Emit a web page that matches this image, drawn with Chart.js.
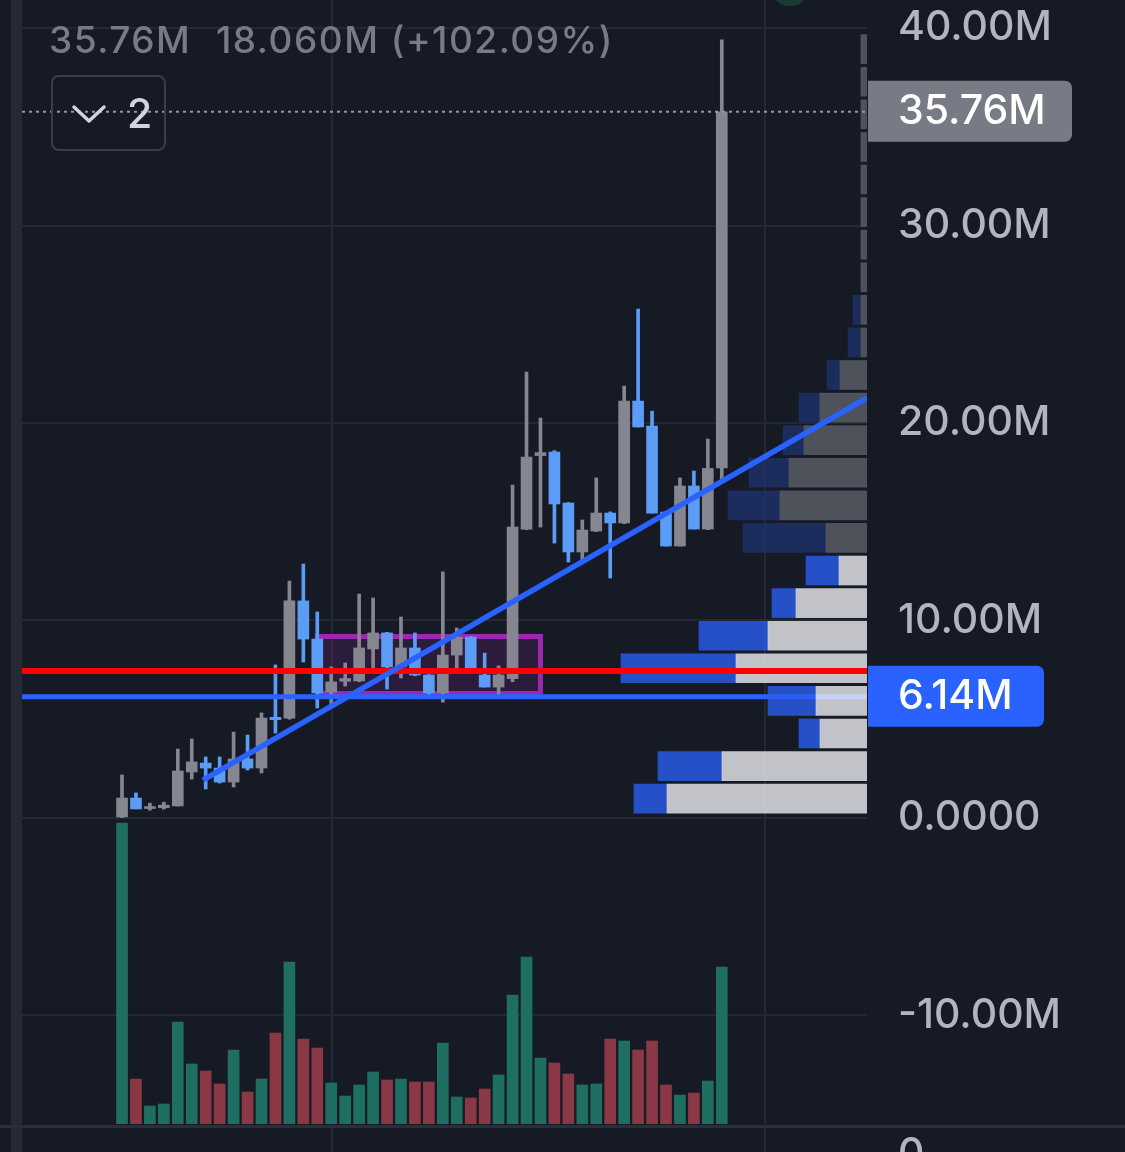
<!DOCTYPE html>
<html>
<head>
<meta charset="utf-8">
<script src="https://cdn.jsdelivr.net/npm/chart.js@4.4.0/dist/chart.umd.min.js"></script>
<style>
  html, body { margin: 0; padding: 0; background: #161a25; }
  #wrap { width: 1125px; height: 1152px; position: relative; }
</style>
</head>
<body>
<div id="wrap"><canvas id="chart"></canvas></div>
<script>
// candles, oldest first (prices in millions)
const opens  = [0.05, 1.01, 0.48, 0.52, 0.61, 2.33, 2.78, 2.53, 1.82, 2.99, 2.53, 5.10, 5.06, 10.99, 9.06, 6.38, 6.92, 6.94, 8.56, 9.37, 7.65, 8.61, 7.24, 6.33, 8.25, 9.16, 7.24, 6.63, 7.05, 14.63, 18.35, 18.53, 15.95, 13.47, 14.53, 15.44, 14.94, 21.11, 19.85, 15.49, 13.77, 16.81, 14.63, 17.72];
const highs  = [2.18, 1.27, 0.75, 0.80, 3.49, 4.00, 3.09, 3.09, 4.35, 4.20, 5.32, 7.75, 12.00, 12.86, 10.43, 7.65, 7.85, 11.34, 11.14, 9.40, 10.18, 9.37, 7.26, 12.46, 9.62, 9.18, 8.35, 7.70, 16.86, 22.58, 20.25, 18.60, 15.97, 15.09, 17.22, 15.50, 21.87, 25.77, 20.60, 15.50, 17.22, 17.57, 19.19, 39.40];
const lows   = [0.02, 0.46, 0.40, 0.45, 0.61, 1.97, 1.47, 1.77, 1.57, 2.43, 2.28, 4.30, 5.00, 7.90, 5.57, 5.72, 6.68, 6.90, 7.60, 6.53, 7.09, 7.20, 6.23, 5.87, 7.60, 7.60, 6.63, 6.18, 6.90, 14.60, 14.73, 13.92, 12.96, 12.96, 14.50, 12.15, 14.90, 19.80, 15.44, 13.77, 13.77, 14.63, 14.60, 17.11];
const closes = [1.01, 0.46, 0.58, 0.65, 2.38, 2.84, 2.53, 1.82, 2.99, 2.53, 5.06, 4.98, 10.99, 9.06, 6.33, 6.89, 7.06, 8.61, 9.37, 7.65, 8.61, 7.24, 6.33, 8.25, 9.16, 7.60, 6.63, 7.24, 14.73, 18.28, 18.50, 15.90, 13.47, 14.58, 15.44, 14.94, 21.11, 19.80, 15.44, 13.77, 16.81, 14.63, 17.70, 35.76];
const volumes = [301, 45, 18, 20, 102, 60, 53, 40, 74, 32, 45, 91, 162, 85, 76, 41, 28, 39, 52, 44, 45, 42, 42, 81, 27, 26, 35, 49, 129, 167, 66, 61, 50, 39, 40, 85, 83, 74, 83, 39, 29, 31, 43, 157];

// volume profile rows (row centre price, up volume, down volume)
const profileLevels = [0.98, 2.63, 4.28, 5.93, 7.58, 9.23, 10.88, 12.53, 14.18, 15.83, 17.48, 19.13, 20.78, 22.43, 24.08, 25.73, 27.38, 29.03, 30.68, 32.33, 33.98, 35.63, 37.28, 38.93];
const profileUpVol   = [200, 145, 47, 51, 131, 99, 71, 28, 41, 87, 78, 63, 47, 27, 6, 6, 6, 6, 6, 6, 6, 6, 6, 6];
const profileDownVol = [33, 64, 21, 48, 115, 69, 24, 33, 83, 52, 40, 21, 21, 13, 13, 8, 0, 0, 0, 0, 0, 0, 0, 0];
const valueAreaRows = 8;

// drawings
const lastPrice = 35.76;
const redLevel = 7.44;
const blueLevel = 6.14;
const trendX = [5.8, 53.4];
const trendY = [1.92, 21.27];
const boxX = [14, 30];
const boxY = [6.30, 9.19];

// axes
const yTicks = [-10, 0, 10, 20, 30, 40];
const timeGrid = [15.05, 46.09];
const xMin = -7.17, xMax = 53.41;
const yMin = -15.494, yMax = 41.418;

const FONT = "Inter, 'Noto Sans', sans-serif";
const UP = '#85868f', DOWN = '#5b9cf6';

const idx = opens.map((o, i) => i);
const isUp = i => closes[i] >= opens[i];

// an axis that only exists to map values, takes no room
const bareAxis = extra => Object.assign({
  type: 'linear', display: true, offset: false,
  ticks: { display: false },
  grid: { display: false, drawTicks: false },
  border: { display: false },
  afterFit: s => { s.paddingTop = s.paddingBottom = s.paddingLeft = s.paddingRight = 0; }
}, extra);

const deco = {
  id: 'deco',
  beforeDraw(chart) {
    const c = chart.ctx;
    c.save();
    c.fillStyle = '#161a25';
    c.fillRect(0, 0, chart.width, chart.height);
    c.fillStyle = '#252933';
    c.fillRect(11, 0, 11, chart.height);
    c.fillStyle = '#1b3a36';
    c.beginPath(); c.arc(790, -15, 21, 0, Math.PI * 2); c.fill();
    c.restore();
  },
  afterDraw(chart) {
    const c = chart.ctx;
    const ys = chart.scales.y, xs = chart.scales.x;
    c.save();
    // pane separator
    c.fillStyle = '#2a2e39';
    c.fillRect(0, 1125, chart.width, 3);
    c.fillStyle = '#242833';
    timeGrid.forEach(t => {
      const px = Math.round(xs.getPixelForValue(t));
      c.fillRect(px - 1, 1128, 2, chart.height - 1128);
    });
    c.fillStyle = '#b2b5be';
    c.font = '500 41px ' + FONT;
    c.textBaseline = 'middle';
    c.textAlign = 'left';
    c.fillText('0', 898, 1155);

    // header
    c.fillStyle = '#787b86';
    c.font = '500 37px ' + FONT;
    c.letterSpacing = '1.5px';
    c.textBaseline = 'alphabetic';
    c.fillText('35.76M', 49, 53);
    c.fillText('18.060M (+102.09%)', 216, 53);
    c.letterSpacing = '0px';

    // collapse button
    c.strokeStyle = '#3a3e49';
    c.lineWidth = 2;
    c.beginPath(); c.roundRect(52, 76, 113, 74, 7); c.stroke();
    c.strokeStyle = '#d1d4dc';
    c.lineWidth = 3.5;
    c.lineCap = 'round'; c.lineJoin = 'round';
    c.beginPath(); c.moveTo(74, 107); c.lineTo(89, 121); c.lineTo(104, 107); c.stroke();
    c.fillStyle = '#d1d4dc';
    c.font = '500 41px ' + FONT;
    c.fillText('2', 127, 128);

    // price labels
    const tag = (v, text, bg, w) => {
      const py = ys.getPixelForValue(v);
      c.fillStyle = bg;
      c.beginPath(); c.roundRect(868, py - 31, w, 61, [0, 7, 7, 0]); c.fill();
      c.fillStyle = '#ffffff';
      c.font = '500 41px ' + FONT;
      c.textBaseline = 'middle';
      c.fillText(text, 898, py);
    };
    tag(lastPrice, '35.76M', '#787b86', 204);
    tag(blueLevel, '6.14M', '#2962ff', 176);
    c.restore();
  }
};

new Chart(document.getElementById('chart'), {
  type: 'bar',
  data: {
    datasets: [
      {
        label: 'Volume', yAxisID: 'yv', order: 10, grouped: false, barThickness: 11,
        data: idx.map(i => ({ x: i, y: volumes[i] })),
        backgroundColor: idx.map(i => isUp(i) ? '#1f6e62' : '#8a3845')
      },
      {
        type: 'line', label: 'Box', order: 9,
        data: [
          { x: boxX[0], y: boxY[0] }, { x: boxX[0], y: boxY[1] },
          { x: boxX[1], y: boxY[1] }, { x: boxX[1], y: boxY[0] },
          { x: boxX[0], y: boxY[0] }
        ],
        borderColor: '#9c27b0', borderWidth: 5, pointRadius: 0,
        fill: 'shape', backgroundColor: 'rgba(156,39,176,0.17)', tension: 0
      },
      {
        label: 'Wick', order: 8, grouped: false, barThickness: 3,
        data: idx.map(i => ({ x: i, y: [lows[i], highs[i]] })),
        backgroundColor: idx.map(i => isUp(i) ? UP : DOWN)
      },
      {
        label: 'Body', order: 7, grouped: false, barThickness: 11,
        data: idx.map(i => ({ x: i, y: [opens[i], closes[i]] })),
        backgroundColor: idx.map(i => isUp(i) ? UP : DOWN)
      },
      {
        type: 'line', label: 'Blue level', order: 6,
        data: [{ x: xMin, y: blueLevel }, { x: xMax, y: blueLevel }],
        borderColor: '#2962ff', borderWidth: 5, pointRadius: 0
      },
      {
        label: 'Profile up', indexAxis: 'y', xAxisID: 'xp', yAxisID: 'y', order: 5,
        grouped: false, barThickness: 29,
        data: profileLevels.map((p, k) => ({ x: [0, profileUpVol[k]], y: p })),
        backgroundColor: profileLevels.map((p, k) => k < valueAreaRows ? 'rgba(237,238,243,0.8)' : 'rgba(93,96,105,0.8)')
      },
      {
        label: 'Profile down', indexAxis: 'y', xAxisID: 'xp', yAxisID: 'y', order: 5,
        grouped: false, barThickness: 29,
        data: profileLevels.map((p, k) => ({ x: [profileUpVol[k], profileUpVol[k] + profileDownVol[k]], y: p })),
        backgroundColor: profileLevels.map((p, k) => k < valueAreaRows ? 'rgba(42,94,241,0.8)' : 'rgba(30,49,108,0.8)')
      },
      {
        type: 'line', label: 'Last', order: 4,
        data: [{ x: xMin, y: lastPrice }, { x: xMax, y: lastPrice }],
        borderColor: '#9598a1', borderWidth: 2, borderDash: [3, 4], pointRadius: 0
      },
      {
        type: 'line', label: 'Red level', order: 3,
        data: [{ x: xMin, y: redLevel }, { x: xMax, y: redLevel }],
        borderColor: '#ff0000', borderWidth: 6, pointRadius: 0
      },
      {
        type: 'line', label: 'Trend', order: 2,
        data: [{ x: trendX[0], y: trendY[0] }, { x: trendX[1], y: trendY[1] }],
        borderColor: '#2962ff', borderWidth: 5.5, pointRadius: 0
      }
    ]
  },
  options: {
    responsive: true,
    maintainAspectRatio: false,
    animation: false,
    events: [],
    layout: { padding: { left: 22, right: 0, top: 0, bottom: 28 } },
    plugins: { legend: { display: false }, tooltip: { enabled: false } },
    scales: {
      x: {
        type: 'linear', position: 'bottom', min: xMin, max: xMax, offset: false,
        afterBuildTicks: s => { s.ticks = timeGrid.map(v => ({ value: v })); },
        afterFit: s => { s.paddingLeft = s.paddingRight = 0; },
        ticks: { display: false },
        grid: { color: '#242833', lineWidth: 2, drawTicks: false, offset: false },
        border: { display: false }
      },
      xp: bareAxis({ position: 'top', min: 0, max: 845, reverse: true }),
      y: {
        type: 'linear', position: 'right', min: yMin, max: yMax, offset: false,
        afterBuildTicks: s => { s.ticks = yTicks.map(v => ({ value: v })); },
        afterFit: s => { s.width = 258; s.paddingTop = 0; s.paddingBottom = 0; },
        ticks: {
          color: '#b2b5be', padding: 31, autoSkip: false,
          font: { family: FONT, size: 41, weight: '500' },
          callback: v => v === 0 ? '0.0000' : v.toFixed(2) + 'M'
        },
        grid: { color: '#242833', lineWidth: 2, drawTicks: false, offset: false },
        border: { display: false }
      },
      yv: bareAxis({ position: 'left', min: 0, max: 1124 })
    }
  },
  plugins: [deco]
});
</script>
</body>
</html>
